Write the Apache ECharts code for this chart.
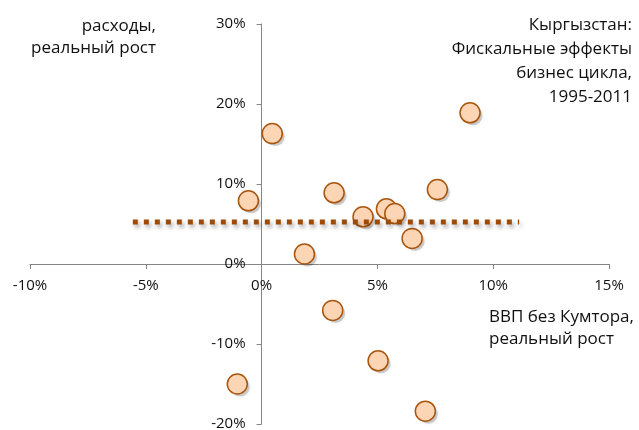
<!DOCTYPE html>
<html><head><meta charset="utf-8">
<script src="https://cdn.jsdelivr.net/npm/echarts@6/dist/echarts.min.js"></script>
<style>html,body{margin:0;padding:0;background:#fff}#c{width:639px;height:430px}</style>
</head><body><div id="c"></div>
<script>
// data
var gdpGrowth = [0.46, -0.57, 9.0, 3.13, 7.59, 5.39, 4.38, 5.75, 6.5, 1.85, 3.07, 5.03, -1.05, 7.07];
var spendGrowth = [16.3, 7.9, 18.9, 8.9, 9.3, 6.9, 5.9, 6.3, 3.2, 1.25, -5.8, -12.1, -15.0, -18.4];
var trendX = [-5.56, 11.12];
var trendY = [5.25, 5.25];
var xTicks = [-10, -5, 0, 5, 10, 15];
var yTicks = [-20, -10, 0, 10, 20, 30];
var titleText = 'Кыргызстан:\nФискальные эффекты\nбизнес цикла,\n1995-2011';
var yName = 'расходы,\nреальный рост';
var xName = 'ВВП без Кумтора,\nреальный рост';

var font = '"Open Sans", "Noto Sans", sans-serif';
var W = 639, H = 430;
var G = {left: 30, right: 30, top: 24, bottom: 6};
var gw = W - G.left - G.right, gh = H - G.top - G.bottom;
var xMin = xTicks[0], xMax = xTicks[xTicks.length - 1];
var yMin = yTicks[0], yMax = yTicks[yTicks.length - 1];
// move axes so they cross at zero (labels follow)
var xAxisOffset = -((0 - yMin) / (yMax - yMin)) * gh;
var yAxisOffset = -((0 - xMin) / (xMax - xMin)) * gw;

var chart = echarts.init(document.getElementById('c'), null, {renderer: 'canvas'});
var pts = gdpGrowth.map(function (x, i) { return [x, spendGrowth[i]]; });
var trend = trendX.map(function (x, i) { return [x, trendY[i]]; });
var pct = function (v) { return v + '%'; };
chart.setOption({
  animation: false,
  textStyle: {fontFamily: font},
  grid: {left: G.left, right: G.right, top: G.top, bottom: G.bottom, containLabel: false, outerBoundsMode: 'none'},
  graphic: [
    {type: 'text', x: 632, y: 13, style: {text: titleText, font: '17px ' + font, fill: '#111', align: 'right', verticalAlign: 'top', lineHeight: 24}},
    {type: 'text', x: 156, y: 15, style: {text: yName, font: '17px ' + font, fill: '#111', align: 'right', verticalAlign: 'top', lineHeight: 22}},
    {type: 'text', x: 489, y: 306, style: {text: xName, font: '17px ' + font, fill: '#111', align: 'left', verticalAlign: 'top', lineHeight: 22}}
  ],
  xAxis: {
    type: 'value', min: xMin, max: xMax, interval: 5, offset: xAxisOffset,
    axisLine: {onZero: false, lineStyle: {color: '#868686', width: 1}},
    axisTick: {show: true, length: 5, lineStyle: {color: '#868686'}},
    axisLabel: {margin: 14, fontSize: 15, color: '#111', fontFamily: font, formatter: pct},
    splitLine: {show: false}
  },
  yAxis: {
    type: 'value', min: yMin, max: yMax, interval: 10, offset: yAxisOffset,
    axisLine: {show: true, onZero: false, lineStyle: {color: '#868686', width: 1}},
    axisTick: {show: true, length: 5, lineStyle: {color: '#868686'}},
    axisLabel: {margin: 16, fontSize: 15, color: '#111', fontFamily: font, formatter: pct},
    splitLine: {show: false}
  },
  series: [
    {
      type: 'scatter', data: pts, symbol: 'circle', symbolSize: 19, symbolOffset: [3, 3], z: 1, silent: true,
      itemStyle: {color: 'rgba(0,0,0,0.22)', shadowColor: 'rgba(0,0,0,0.35)', shadowBlur: 4}
    },
    {
      type: 'scatter', data: pts, symbol: 'circle', symbolSize: 20, z: 2,
      itemStyle: {color: '#fcd5b4', borderColor: '#a9560f', borderWidth: 1.5, opacity: 1}
    },
    {
      type: 'line', data: trend, symbol: 'none', z: 3,
      lineStyle: {color: '#9c4a06', width: 5, type: [5, 6],
        shadowColor: 'rgba(0,0,0,0.35)', shadowBlur: 4, shadowOffsetX: 2, shadowOffsetY: 3}
    }
  ]
});
</script></body></html>
